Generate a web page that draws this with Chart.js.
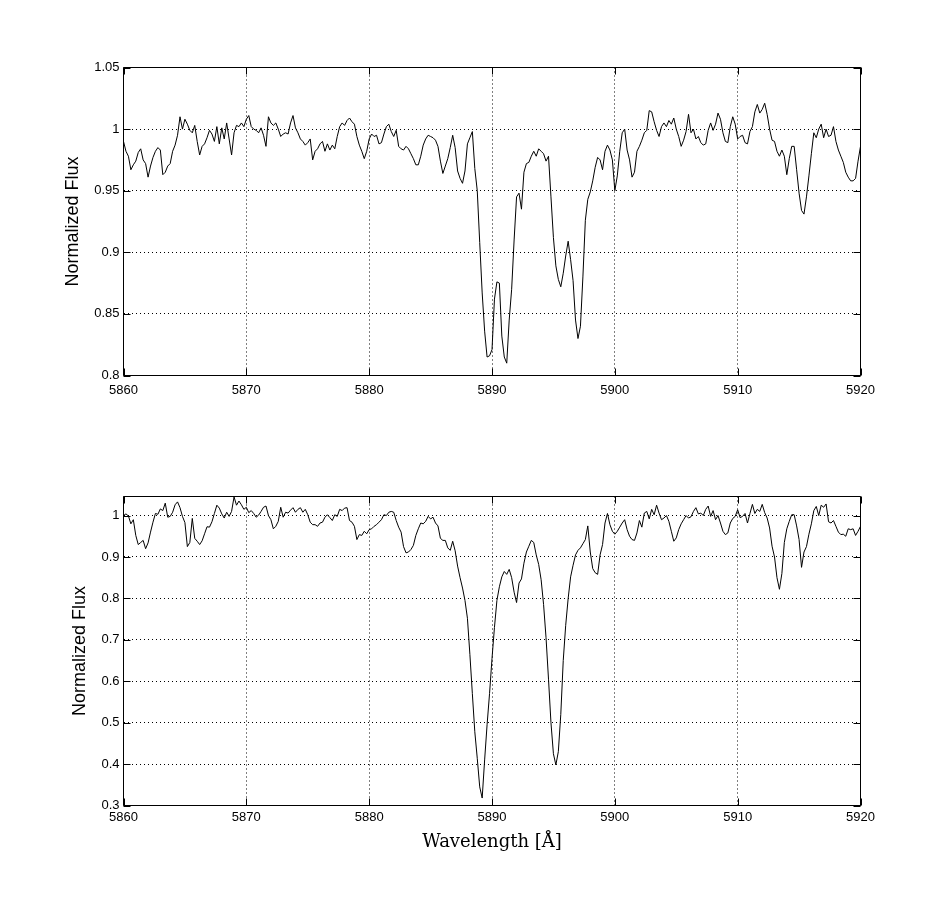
<!DOCTYPE html>
<html>
<head>
<meta charset="utf-8">
<title>Normalized flux around the Na D lines</title>
<script src="https://cdn.jsdelivr.net/npm/chart.js"></script>
<style>
  html, body { margin: 0; padding: 0; background: #fff; }
  #wrap { position: relative; width: 950px; height: 904px; }
  canvas { position: absolute; left: 0; }
  #topChart { top: 0; }
  #bottomChart { top: 452px; }
</style>
</head>
<body>
<div id="wrap">
  <canvas id="topChart" width="950" height="452"></canvas>
  <canvas id="bottomChart" width="950" height="452"></canvas>
</div>
<script>
// spectra are sampled every 0.2 A from 5860 to 5920 A
const waveStart = 5860;
const waveStep = 0.2;

// upper panel
const topFlux = [
  0.990,0.982,0.978,0.967,0.971,0.974,0.981,0.984,0.975,0.972,
  0.961,0.970,0.977,0.982,0.985,0.983,0.963,0.965,0.970,0.972,
  0.982,0.987,0.995,1.010,1.000,1.008,1.004,0.999,0.997,1.003,
  0.990,0.979,0.986,0.988,0.993,0.999,0.996,0.990,1.002,0.988,
  1.001,0.992,1.005,0.992,0.979,0.997,1.003,1.002,1.005,1.002,
  1.008,1.011,1.002,1.000,0.999,0.997,1.001,0.995,0.986,1.010,
  1.005,1.003,1.005,1.000,0.994,0.996,0.997,0.996,1.005,1.011,
  1.001,0.997,0.992,0.990,0.987,0.989,0.992,0.975,0.982,0.984,
  0.988,0.990,0.982,0.988,0.983,0.987,0.984,0.994,1.002,1.005,
  1.003,1.007,1.009,1.006,1.004,0.994,0.987,0.982,0.976,0.982,
  0.992,0.996,0.994,0.995,0.988,0.989,0.996,1.002,1.004,0.998,
  0.994,0.999,0.986,0.984,0.983,0.986,0.984,0.980,0.976,0.971,
  0.971,0.978,0.987,0.992,0.995,0.994,0.993,0.991,0.986,0.974,
  0.964,0.970,0.976,0.985,0.995,0.985,0.966,0.960,0.956,0.966,
  0.988,0.993,0.998,0.968,0.950,0.908,0.867,0.836,0.815,0.816,
  0.821,0.862,0.876,0.875,0.832,0.815,0.810,0.845,0.870,0.910,
  0.945,0.948,0.935,0.965,0.972,0.973,0.978,0.982,0.978,0.984,
  0.982,0.980,0.974,0.978,0.945,0.912,0.889,0.878,0.872,0.883,
  0.897,0.909,0.894,0.877,0.845,0.830,0.840,0.880,0.926,0.943,
  0.949,0.958,0.969,0.977,0.975,0.967,0.982,0.987,0.983,0.975,
  0.950,0.962,0.982,0.997,1.000,0.983,0.975,0.961,0.965,0.982,
  0.986,0.991,0.997,0.999,1.015,1.014,1.006,0.999,0.994,1.002,
  1.005,1.002,1.007,1.004,1.009,1.000,0.994,0.986,0.991,0.998,
  1.012,0.997,1.000,0.992,0.994,0.989,0.987,0.988,0.999,1.005,
  0.999,1.004,1.013,1.008,0.997,0.990,0.989,1.002,1.010,1.004,
  0.992,0.994,0.995,0.989,0.988,0.998,1.002,1.014,1.020,1.013,
  1.016,1.021,1.012,1.000,0.991,0.990,0.982,0.978,0.983,0.978,
  0.963,0.976,0.986,0.986,0.967,0.948,0.934,0.931,0.945,0.962,
  0.980,0.997,0.993,1.000,1.004,0.993,1.000,0.994,0.995,1.002,
  0.990,0.983,0.978,0.973,0.965,0.961,0.958,0.958,0.960,0.974,
  0.986
];

// lower panel
const bottomFlux = [
  1.000,1.004,0.999,0.980,0.990,0.952,0.930,0.935,0.940,0.920,
  0.934,0.960,0.984,1.005,1.003,1.016,1.012,1.030,0.996,0.998,
  1.008,1.026,1.033,1.019,0.998,0.983,0.925,0.935,0.993,0.945,
  0.938,0.930,0.939,0.956,0.973,0.972,0.985,1.005,1.025,1.018,
  1.004,0.994,1.008,0.998,1.010,1.045,1.025,1.035,1.026,1.015,
  1.020,1.007,1.012,1.005,0.996,1.001,1.010,1.020,1.023,1.000,
  0.990,0.968,0.974,0.986,1.020,0.996,1.008,1.006,1.013,1.019,
  1.008,1.015,1.019,1.008,1.015,1.002,0.984,0.978,0.978,0.974,
  0.982,0.984,0.996,1.002,0.995,0.988,1.002,0.998,1.015,1.012,
  1.018,1.019,0.988,0.984,0.974,0.942,0.954,0.952,0.962,0.956,
  0.966,0.968,0.974,0.978,0.984,0.990,1.002,1.000,1.008,1.010,
  1.008,0.988,0.972,0.960,0.925,0.910,0.912,0.918,0.928,0.952,
  0.968,0.982,0.980,0.986,0.998,0.992,0.996,0.982,0.975,0.945,
  0.940,0.940,0.922,0.916,0.938,0.915,0.878,0.850,0.825,0.795,
  0.752,0.665,0.570,0.478,0.414,0.345,0.318,0.410,0.495,0.570,
  0.655,0.730,0.795,0.828,0.852,0.865,0.858,0.870,0.850,0.815,
  0.790,0.837,0.847,0.885,0.912,0.926,0.940,0.935,0.905,0.882,
  0.845,0.785,0.705,0.605,0.500,0.425,0.398,0.430,0.520,0.650,
  0.735,0.800,0.852,0.880,0.905,0.916,0.922,0.932,0.942,0.975,
  0.912,0.872,0.862,0.858,0.905,0.930,0.982,1.005,0.978,0.962,
  0.955,0.962,0.972,0.982,0.990,0.966,0.950,0.942,0.940,0.958,
  0.988,0.972,1.006,1.010,0.992,1.015,1.002,1.025,1.006,0.990,
  0.994,1.000,0.986,0.962,0.938,0.946,0.966,0.980,0.990,1.000,
  0.994,0.997,1.010,1.019,1.004,1.006,1.000,1.015,1.023,0.998,
  1.012,0.990,1.000,0.982,0.962,0.954,0.958,0.982,0.993,0.998,
  1.014,0.995,0.998,1.005,0.982,1.005,1.027,1.005,1.015,1.010,
  1.027,1.007,0.994,0.970,0.926,0.900,0.850,0.822,0.860,0.935,
  0.968,0.986,1.002,1.002,0.975,0.942,0.875,0.912,0.925,0.955,
  0.980,1.012,1.022,1.000,1.025,1.020,1.028,0.985,0.982,0.988,
  0.974,0.960,0.954,0.955,0.950,0.968,0.966,0.968,0.952,0.962,
  0.974
];

const waveTicks = [5860, 5870, 5880, 5890, 5900, 5910, 5920];
const topFluxTicks = [0.8, 0.85, 0.9, 0.95, 1, 1.05];
const bottomFluxTicks = [0.3, 0.4, 0.5, 0.6, 0.7, 0.8, 0.9, 1];

const wavelengths = topFlux.map((_, i) => +(waveStart + i * waveStep).toFixed(1));

Chart.defaults.font.family = '"Liberation Sans", Arial, Helvetica, sans-serif';
Chart.defaults.color = '#000';

// matlab style: closed box and inward tick marks on all four sides
const matlabAxes = {
  id: 'matlabAxes',
  afterDatasetsDraw(chart) {
    const { ctx, chartArea: a, scales: { x, y } } = chart;
    const len = 7;
    ctx.save();
    ctx.strokeStyle = '#000';
    ctx.lineWidth = 1;
    ctx.beginPath();
    x.ticks.forEach(t => {
      const px = Math.round(x.getPixelForValue(t.value)) + 0.5;
      ctx.moveTo(px, a.bottom); ctx.lineTo(px, a.bottom - len);
      ctx.moveTo(px, a.top); ctx.lineTo(px, a.top + len);
    });
    y.ticks.forEach(t => {
      const py = Math.round(y.getPixelForValue(t.value)) + 0.5;
      ctx.moveTo(a.left, py); ctx.lineTo(a.left + len, py);
      ctx.moveTo(a.right, py); ctx.lineTo(a.right - len, py);
    });
    ctx.rect(a.left, a.top, a.right - a.left, a.bottom - a.top);
    ctx.stroke();
    ctx.restore();
  }
};

function spectrumChart(id, flux, o) {
  return new Chart(document.getElementById(id), {
    type: 'line',
    data: {
      datasets: [{
        data: flux.map((f, i) => ({ x: wavelengths[i], y: f })),
        borderColor: '#000',
        borderWidth: 1,
        pointRadius: 0,
        tension: 0,
        fill: false
      }]
    },
    options: {
      responsive: false,
      animation: false,
      events: [],
      layout: { padding: { left: 0, right: 89.5, top: o.top, bottom: 0 } },
      plugins: { legend: { display: false }, tooltip: { enabled: false } },
      scales: {
        x: {
          type: 'linear',
          min: 5860,
          max: 5920,
          afterBuildTicks: s => { s.ticks = waveTicks.map(v => ({ value: v })); },
          afterFit: s => { s.height = o.xHeight; },
          grid: { color: '#000', lineWidth: 1, drawTicks: false },
          border: { display: false, dash: [1, 3] },
          ticks: { font: { size: 13 }, padding: o.xTickPad, maxRotation: 0, callback: v => String(v) },
          title: {
            display: o.xTitle,
            text: 'Wavelength [Å]',
            font: { family: '"DejaVu Serif", "Liberation Serif", serif', size: 18 },
            padding: { top: 0, bottom: 51 }
          }
        },
        y: {
          min: o.yMin,
          max: o.yMax,
          afterBuildTicks: s => { s.ticks = o.yTicks.map(v => ({ value: v })); },
          afterFit: s => { s.width = 123.5; },
          grid: { color: '#000', lineWidth: 1, drawTicks: false },
          border: { display: false, dash: [1, 3] },
          ticks: { font: { size: 13 }, padding: 4, callback: v => String(v) },
          title: {
            display: true,
            text: 'Normalized Flux',
            font: { size: 18 },
            padding: { top: o.yTitlePad, bottom: 0 }
          }
        }
      }
    },
    plugins: [matlabAxes]
  });
}

spectrumChart('topChart', topFlux, {
  top: 67.5, xHeight: 76.5, yMin: 0.8, yMax: 1.05, yTicks: topFluxTicks,
  yTitlePad: 62, xTitle: false, xTickPad: 7
});

spectrumChart('bottomChart', bottomFlux, {
  top: 44.5, xHeight: 98.5, yMin: 0.3, yMax: 1.046, yTicks: bottomFluxTicks,
  yTitlePad: 69, xTitle: true, xTickPad: 4
});
</script>
</body>
</html>
